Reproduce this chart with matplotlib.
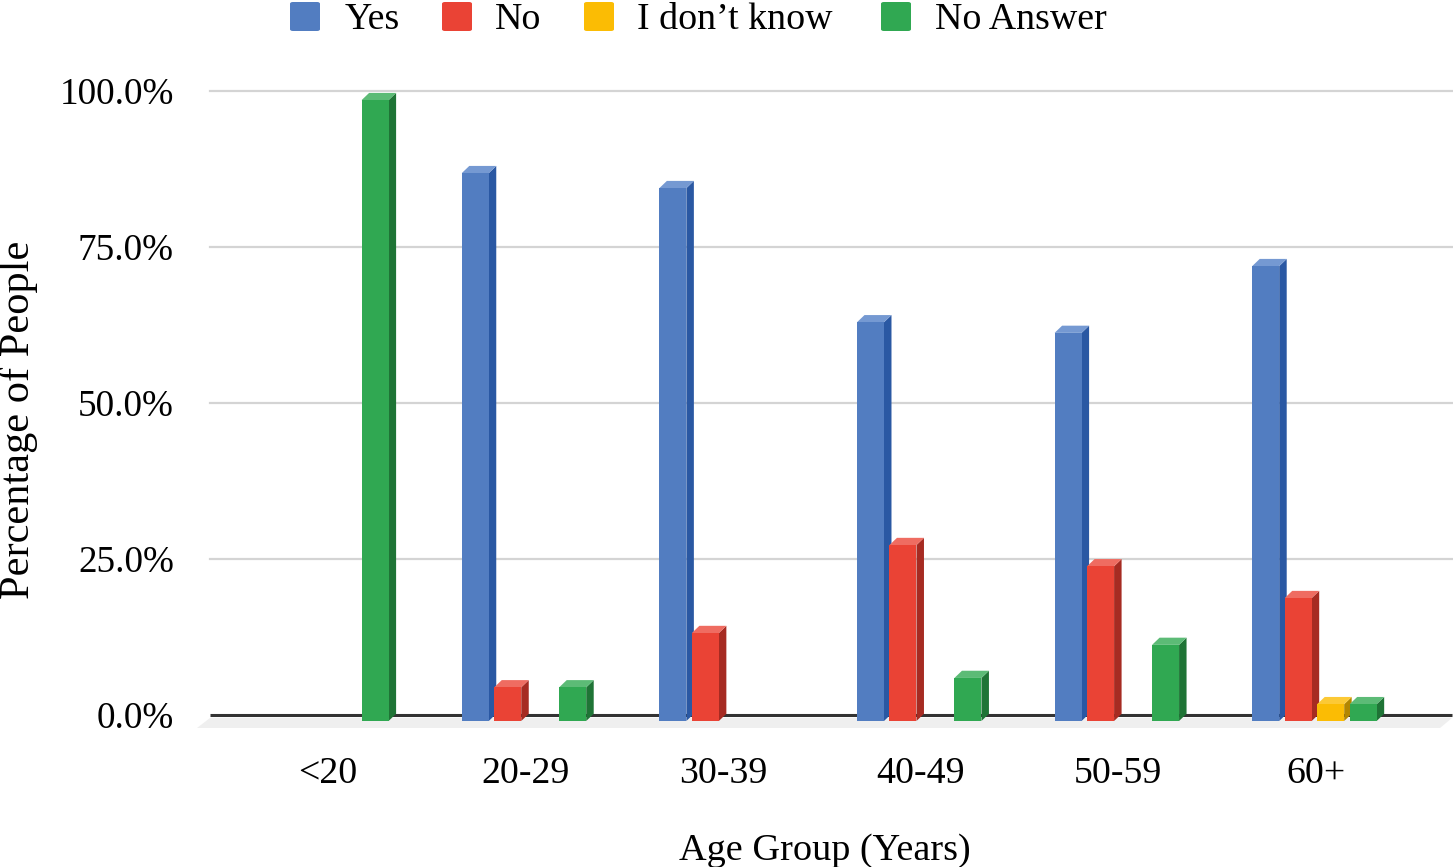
import matplotlib
matplotlib.use("Agg")
import matplotlib.pyplot as plt
from matplotlib.patches import Polygon, FancyBboxPatch
import numpy as np

categories = ["<20", "20-29", "30-39", "40-49", "50-59", "60+"]
series_names = ["Yes", "No", "I don\u2019t know", "No Answer"]
yes = [0.0, 87.8, 85.4, 63.9, 62.2, 72.9]
no = [0.0, 5.4, 14.1, 28.2, 24.8, 19.7]
dont_know = [0.0, 0.0, 0.0, 0.0, 0.0, 2.7]
no_answer = [99.5, 5.4, 0.0, 6.9, 12.2, 2.7]
y_ticks = [0, 25, 50, 75, 100]
y_tick_labels = ["0.0%", "25.0%", "50.0%", "75.0%", "100.0%"]

series = [yes, no, dont_know, no_answer]
front_cols = ["#527dc1", "#ea4335", "#fbbc04", "#30a852"]
side_cols = ["#2a58a3", "#a62b22", "#b38600", "#1f7436"]
top_cols = ["#7599d2", "#ef6c61", "#fcc935", "#5cbb76"]

W, H = 1453, 867
fig = plt.figure(figsize=(W / 100, H / 100), dpi=100)
FONT = "Liberation Serif"

ax_l, ax_r, ax_b, ax_t = 210, 1452, 715, 91
ax = fig.add_axes([ax_l / W, (H - ax_b) / H, (ax_r - ax_l) / W, (ax_b - ax_t) / H])
ax.set_ylim(0, 100)
ax.set_xlim(-0.595, 5.69)
for s in ax.spines.values():
    s.set_visible(False)
ax.set_xticks([])
ax.set_yticks([])
ax.patch.set_alpha(0)

# pixel -> data conversions
p0 = ax.transData.transform((0, 0))
p1 = ax.transData.transform((1, 1))
px_x = p1[0] - p0[0]
px_y = p1[1] - p0[1]

def dx(px):
    return px / px_x

def dy(px):
    return px / px_y

# gridlines
for t in y_ticks[1:]:
    ax.plot([-0.595, 5.69], [t, t], color="#d4d4d4", lw=1.6, zorder=1, clip_on=False)

# floor
floor = Polygon([(-0.595, -dy(3)), (5.69, -dy(3)), (5.69 - dx(12), -dy(13)), (-0.595 - dx(13), -dy(13))],
                closed=True, facecolor="#efefef", edgecolor="none", zorder=1, clip_on=False)
ax.add_patch(floor)
ax.plot([-0.595, 5.69], [0, 0], color="#333333", lw=2.2, zorder=2, clip_on=False, solid_capstyle="butt")

bw = 27 / 197.7
pitch = 32.5 / 197.7
offs = (np.arange(4) - 1.5) * pitch
front_dy = -6.0   # px
back_dx, back_dy = 7.5, 1.2

for si, vals in enumerate(series):
    for ci, v in enumerate(vals):
        if v <= 0:
            continue
        xc = ci + offs[si] - dx(1.2)
        x0, x1 = xc - bw / 2, xc + bw / 2
        yb = dy(front_dy)
        yt = v + dy(front_dy)
        bx = dx(back_dx)
        by = dy(back_dy - front_dy)
        # side
        ax.add_patch(Polygon([(x1, yb), (x1 + bx, yb + by), (x1 + bx, yt + by), (x1, yt)],
                             closed=True, facecolor=side_cols[si], edgecolor="none", zorder=3, clip_on=False))
        # top
        ax.add_patch(Polygon([(x0, yt), (x1, yt), (x1 + bx, yt + by), (x0 + bx, yt + by)],
                             closed=True, facecolor=top_cols[si], edgecolor="none", zorder=3, clip_on=False))
        # front
        ax.add_patch(Polygon([(x0, yb), (x1, yb), (x1, yt), (x0, yt)],
                             closed=True, facecolor=front_cols[si], edgecolor="none", zorder=4, clip_on=False))

# tick labels
for t, lab in zip(y_ticks, y_tick_labels):
    ax.text(-0.595 - dx(36), t - dy(4), lab, ha="right", va="center", fontsize=26.7, family=FONT, clip_on=False)
for ci, c in enumerate(categories):
    ax.text(ci, -dy(59), c, ha="center", va="center", fontsize=27.3, family=FONT, clip_on=False)

fig.text(825 / W, 1 - 851 / H, "Age Group (Years)", ha="center", va="center", fontsize=27.5, family=FONT)
fig.text(19 / W, 1 - 420 / H, "Percentage of People", ha="center", va="center", rotation=90,
         fontsize=30.5, family=FONT)

# legend
leg_x = [290, 442, 584, 881]
txt_x = [345, 495, 637, 935]
for i in range(4):
    r = FancyBboxPatch((leg_x[i] / W, 1 - 31 / H), 30 / W, 29 / H,
                       boxstyle="round,pad=0,rounding_size=0.002", transform=fig.transFigure,
                       facecolor=front_cols[i], edgecolor="none")
    fig.patches.append(r)
    fig.text(txt_x[i] / W, 1 - 20 / H, series_names[i], ha="left", va="center", fontsize=27.3, family=FONT)

fig.savefig("out.png", dpi=100)
